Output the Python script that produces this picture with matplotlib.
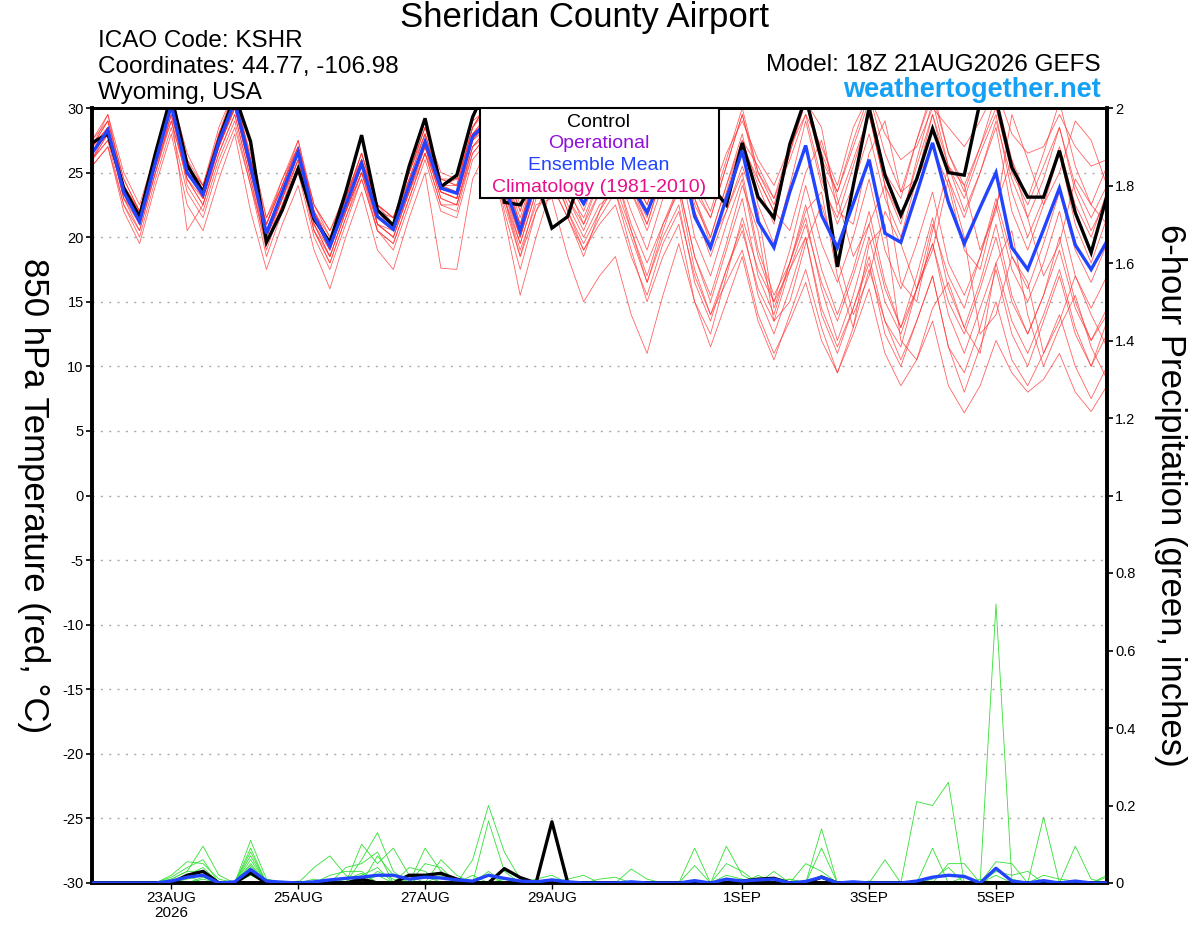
import numpy as np
import pandas as pd
import matplotlib
matplotlib.use('Agg')
import matplotlib.pyplot as plt
from matplotlib.patches import Rectangle

plt.rcParams['font.family'] = ['Liberation Sans', 'DejaVu Sans']
plt.rcParams['axes.unicode_minus'] = False

# 6-hourly GEFS steps from the 18Z 21AUG2026 run
times = pd.date_range('2026-08-21 18:00', periods=65, freq='6h')

# 850 hPa temperature (C)
ens_mean = [26.5, 28.3, 23.5, 21.2, 25.8, 30.2, 25.0, 23.3, 27.4, 30.5,
            25.5, 20.3, 23.5, 26.6, 21.6, 19.3, 22.5, 25.7, 21.6, 20.6,
            24.0, 27.4, 23.8, 23.4, 27.8, 29.0, 24.0, 20.5, 24.5, 26.0,
            24.5, 22.6, 25.0, 26.8, 24.0, 21.9, 25.0, 27.0, 21.6, 19.2,
            23.0, 26.7, 21.2, 19.2, 23.5, 27.1, 21.7, 19.2, 22.6, 26.0,
            20.3, 19.6, 23.4, 27.3, 22.7, 19.5, 22.3, 25.0, 19.2, 17.5,
            20.6, 23.8, 19.4, 17.5, 19.7]

control = [27.3, 28.0, 23.8, 21.6, 26.5, 31.0, 25.6, 23.5, 27.5, 31.0,
           27.4, 19.6, 22.1, 25.3, 21.4, 19.6, 23.5, 27.9, 22.1, 20.9,
           25.5, 29.2, 23.9, 24.8, 29.3, 32.0, 22.7, 22.5, 24.5, 20.7,
           21.6, 25.5, 26.5, 27.5, 25.0, 24.0, 26.0, 28.0, 25.0, 24.0,
           22.5, 27.3, 23.1, 21.5, 27.2, 30.8, 26.0, 17.7, 24.0, 30.0,
           24.8, 21.7, 24.5, 28.4, 25.0, 24.8, 30.5, 30.6, 25.4, 23.1,
           23.1, 26.7, 21.9, 18.8, 23.2]

members = [
    [27.0, 29.5, 24.0, 21.5, 26.5, 31.0, 26.0, 23.0, 28.0, 31.5, 26.0, 21.0, 24.0, 27.5, 22.0, 19.5, 23.0, 26.5, 22.5, 21.0, 25.0, 28.5, 24.5, 24.0, 28.5,
     30.5, 25.5, 22.0, 26.0, 28.5, 26.0, 24.0, 27.0, 29.5, 26.0, 23.0, 27.0, 30.0, 24.5, 22.0, 26.0,
     30.0, 25.0, 23.0, 27.0, 31.0, 26.5, 23.5, 27.0, 30.5, 25.0, 23.0, 27.5, 31.0, 26.5, 24.0, 27.0, 30.0, 25.0, 22.5, 25.5, 28.5, 24.0, 21.5, 24.0],
    [26.0, 28.0, 23.0, 20.5, 25.0, 29.5, 20.5, 22.5, 26.5, 29.5, 24.5, 19.5, 22.5, 26.0, 20.5, 18.0, 21.5, 25.0, 20.5, 19.5, 23.0, 26.5, 22.5, 22.0, 26.5,
     28.0, 22.5, 18.5, 22.0, 24.0, 21.5, 19.0, 21.5, 23.5, 20.0, 16.5, 20.0, 22.5, 16.5, 13.5, 17.5,
     21.0, 15.5, 12.5, 16.0, 20.0, 14.0, 11.0, 14.5, 18.0, 12.5, 10.0, 13.5, 17.0, 11.5, 8.0, 11.5, 15.0, 10.5, 8.5, 11.0, 14.0, 10.0, 7.5, 10.0],
    [27.5, 29.0, 24.5, 22.0, 26.0, 30.5, 25.5, 24.0, 27.0, 30.0, 25.0, 21.0, 24.5, 27.0, 22.5, 20.0, 22.0, 25.0, 22.0, 21.5, 24.5, 27.0, 24.0, 24.5, 28.0,
     29.5, 24.5, 21.0, 25.0, 27.5, 25.0, 23.5, 26.0, 28.0, 25.0, 22.5, 26.5, 29.0, 23.0, 20.0, 24.0,
     28.0, 22.5, 19.5, 24.0, 29.0, 24.0, 21.5, 25.5, 29.5, 24.0, 21.0, 26.0, 30.5, 25.5, 22.0, 25.0, 28.5, 22.0, 19.0, 22.5, 26.5, 21.0, 18.0, 21.5],
    [26.0, 27.5, 23.5, 21.0, 25.5, 29.0, 24.5, 23.0, 27.5, 30.5, 26.5, 20.0, 23.0, 26.5, 21.0, 19.0, 22.5, 26.0, 21.0, 20.0, 23.5, 27.0, 23.0, 22.5, 27.0,
     28.5, 23.0, 18.5, 23.0, 25.0, 22.0, 19.5, 22.0, 24.0, 20.5, 17.0, 21.0, 24.0, 18.5, 15.5, 19.5,
     24.0, 20.5, 13.5, 15.0, 19.5, 22.5, 18.5, 14.0, 17.0, 22.0, 19.5, 16.0, 19.0, 24.5, 20.0, 12.5, 14.0, 18.5, 16.5, 11.0, 13.5, 17.0, 14.0, 11.5],
    [26.5, 28.5, 23.0, 21.5, 26.0, 30.0, 24.0, 22.0, 26.0, 29.0, 24.0, 19.5, 23.0, 26.0, 21.0, 18.5, 22.0, 25.0, 21.5, 20.5, 23.5, 26.5, 23.5, 23.0, 27.0,
     28.0, 23.5, 20.0, 24.0, 25.5, 22.5, 20.0, 22.5, 23.5, 19.0, 15.0, 18.5, 21.0, 15.0, 11.5, 15.0,
     18.5, 13.5, 10.5, 14.0, 17.5, 13.0, 9.5, 12.5, 16.0, 11.0, 8.5, 10.5, 13.5, 8.5, 6.4, 8.5, 12.0, 9.5, 8.0, 9.0, 11.0, 8.0, 6.5, 8.5],
    [27.0, 28.5, 24.0, 22.0, 26.5, 31.0, 26.5, 24.0, 28.0, 31.0, 26.0, 21.5, 24.0, 27.0, 22.0, 20.0, 23.0, 26.5, 22.5, 21.5, 25.0, 28.0, 24.5, 24.0, 28.5,
     30.5, 26.0, 22.5, 26.5, 29.0, 26.5, 24.5, 27.5, 30.0, 26.5, 23.5, 27.0, 29.5, 23.0, 19.5, 22.0,
     25.0, 19.0, 15.5, 18.0, 21.5, 16.0, 12.0, 15.5, 20.0, 15.0, 12.5, 16.0, 19.5, 14.0, 11.0, 14.5, 18.0, 13.5, 11.0, 14.0, 17.5, 13.0, 10.0, 12.5],
    [25.5, 27.0, 22.5, 20.0, 24.5, 28.5, 23.5, 21.5, 25.5, 28.5, 24.0, 18.5, 22.0, 25.0, 20.0, 17.5, 21.0, 24.5, 20.5, 19.0, 22.5, 26.0, 22.0, 21.5, 26.0,
     27.5, 22.0, 17.5, 22.0, 25.0, 23.0, 21.0, 24.5, 27.0, 23.5, 20.5, 24.0, 27.5, 22.0, 19.0, 23.0,
     27.0, 24.5, 22.0, 20.5, 25.0, 27.5, 23.0, 18.5, 21.0, 24.0, 16.5, 15.0, 20.5, 25.5, 24.0, 19.0, 22.0, 29.5, 26.0, 22.5, 25.0, 29.0, 27.5, 24.0],
    [27.0, 28.0, 23.5, 21.5, 25.5, 30.0, 25.5, 23.5, 27.0, 30.5, 25.0, 20.5, 23.5, 26.5, 22.0, 19.5, 22.0, 25.5, 21.5, 20.5, 24.5, 28.0, 24.0, 23.5, 28.0,
     29.0, 24.0, 20.0, 24.0, 26.0, 23.5, 21.5, 24.5, 26.5, 23.5, 21.0, 25.0, 28.0, 23.5, 21.5, 25.5,
     29.5, 25.0, 22.5, 26.5, 30.5, 25.5, 22.5, 26.0, 29.5, 24.0, 21.5, 25.5, 29.5, 24.5, 21.5, 25.0, 29.0, 24.5, 21.5, 24.5, 28.5, 23.5, 20.5, 23.0],
    [26.0, 28.0, 24.0, 21.0, 25.0, 29.5, 25.0, 23.5, 27.5, 30.0, 25.5, 20.0, 23.0, 26.5, 21.5, 19.0, 22.5, 25.5, 21.0, 20.0, 23.5, 27.0, 23.5, 23.0, 27.5,
     28.5, 23.0, 19.0, 22.5, 23.0, 18.5, 15.0, 17.0, 18.5, 14.0, 11.0, 15.5, 19.5, 15.0, 12.5, 17.0,
     21.5, 17.5, 15.0, 19.0, 24.0, 19.5, 16.5, 20.0, 24.5, 19.0, 16.0, 19.5, 23.5, 18.0, 15.5, 18.5, 22.5, 17.5, 15.0, 18.0, 22.0, 17.0, 14.5, 17.0],
    [27.5, 29.5, 25.0, 22.5, 26.5, 30.5, 26.0, 24.0, 28.5, 31.5, 27.0, 21.5, 24.5, 27.5, 22.5, 20.5, 23.5, 26.0, 22.5, 21.5, 25.0, 28.5, 25.0, 24.5, 29.0,
     30.0, 25.0, 21.5, 25.5, 27.5, 24.5, 22.0, 25.5, 28.0, 24.5, 22.0, 26.0, 28.5, 22.5, 20.0, 24.0,
     27.5, 25.5, 23.0, 26.0, 29.5, 27.0, 24.0, 28.5, 31.0, 28.0, 26.0, 27.0, 30.0, 28.5, 27.0, 29.0, 31.5, 28.0, 26.5, 27.0, 29.5, 27.0, 25.5, 26.0],
    [26.0, 27.5, 22.5, 20.5, 25.0, 29.0, 24.5, 22.5, 26.5, 29.5, 24.5, 19.0, 22.5, 25.5, 20.5, 18.0, 21.5, 24.5, 20.5, 19.5, 23.0, 26.5, 22.5, 22.5, 26.5,
     28.0, 23.5, 19.5, 23.5, 25.5, 22.0, 19.0, 21.0, 22.5, 18.5, 15.5, 19.5, 22.0, 17.0, 14.0, 17.5,
     20.5, 16.0, 13.5, 17.5, 21.0, 16.5, 13.5, 17.0, 21.0, 16.0, 13.0, 16.0, 19.5, 15.0, 12.5, 16.0, 20.0, 15.0, 12.5, 15.5, 19.0, 14.5, 12.0, 14.5],
    [27.0, 29.0, 24.5, 22.0, 26.0, 30.5, 25.5, 23.5, 27.5, 30.5, 25.5, 21.0, 24.0, 27.0, 22.0, 19.5, 23.0, 26.5, 22.0, 21.0, 24.5, 28.0, 24.0, 24.0, 28.5,
     30.0, 25.0, 21.0, 25.5, 28.0, 25.5, 23.0, 26.5, 29.0, 25.0, 22.5, 26.5, 29.5, 24.0, 21.5, 25.5,
     29.5, 24.5, 22.0, 26.5, 31.0, 26.0, 23.5, 27.5, 31.0, 26.5, 23.5, 27.5, 31.5, 26.5, 23.5, 27.0, 31.0, 26.0, 23.0, 26.5, 30.5, 25.5, 22.5, 25.5],
    [26.5, 28.0, 23.5, 21.0, 25.5, 30.0, 25.0, 23.0, 27.0, 30.0, 25.5, 20.5, 23.5, 26.5, 21.5, 19.0, 22.5, 25.5, 21.5, 20.5, 24.0, 27.0, 23.5, 23.0, 27.5,
     29.0, 24.5, 20.5, 24.5, 26.5, 24.0, 21.0, 23.5, 25.0, 21.0, 18.0, 21.0, 23.5, 17.5, 14.0, 16.5,
     19.0, 14.0, 11.0, 13.5, 16.5, 12.0, 9.5, 13.0, 17.5, 13.5, 11.5, 16.0, 21.0, 17.0, 14.5, 18.5, 23.0, 18.5, 16.0, 19.5, 23.5, 19.0, 16.5, 19.5],
    [26.0, 28.5, 24.0, 21.5, 26.0, 30.0, 25.5, 23.0, 27.0, 30.5, 25.0, 20.0, 23.0, 26.0, 21.0, 18.5, 22.0, 25.5, 21.0, 20.0, 23.5, 27.5, 23.5, 23.0, 27.5,
     29.0, 24.0, 20.0, 24.5, 26.5, 24.5, 22.5, 25.5, 27.5, 24.0, 21.5, 25.5, 28.0, 22.0, 18.5, 22.0,
     25.5, 22.0, 14.5, 18.0, 22.0, 23.5, 17.0, 13.0, 19.5, 21.0, 12.0, 10.5, 14.5, 16.5, 13.0, 11.0, 18.0, 20.5, 14.0, 10.0, 13.0, 15.5, 11.5, 9.0],
    [27.0, 29.0, 24.0, 22.0, 26.5, 30.5, 25.5, 24.0, 28.0, 31.0, 26.0, 21.0, 24.0, 27.0, 22.5, 20.5, 23.0, 26.0, 22.5, 21.5, 25.0, 28.5, 24.5, 24.5, 28.5,
     30.5, 25.5, 22.0, 26.0, 28.5, 26.0, 23.5, 26.0, 28.5, 25.5, 23.0, 26.5, 29.0, 25.0, 23.0, 26.5,
     29.0, 26.0, 24.0, 27.0, 29.5, 24.5, 21.0, 24.0, 28.0, 23.0, 20.0, 24.5, 29.5, 25.5, 23.0, 26.5, 29.5, 23.5, 20.0, 23.0, 27.0, 22.5, 20.0, 23.5],
    [26.5, 28.0, 23.0, 21.0, 25.5, 29.5, 24.5, 22.5, 27.0, 30.0, 25.0, 19.5, 22.5, 25.5, 20.5, 18.5, 22.0, 25.0, 21.0, 20.5, 24.0, 27.0, 23.0, 22.5, 27.0,
     28.5, 23.0, 19.5, 23.5, 25.5, 23.0, 20.5, 23.5, 25.5, 22.0, 19.0, 23.0, 26.0, 20.0, 17.0, 21.0,
     24.5, 18.5, 15.0, 17.5, 20.0, 14.5, 11.5, 14.5, 18.5, 13.5, 10.5, 13.5, 17.0, 11.5, 9.5, 13.0, 17.5, 12.5, 10.0, 13.5, 17.0, 12.5, 10.0, 13.5],
    [27.0, 28.5, 23.5, 21.5, 26.0, 30.0, 25.0, 23.5, 27.0, 30.0, 25.5, 20.5, 23.5, 26.5, 22.0, 19.5, 23.0, 26.0, 22.0, 20.5, 24.0, 27.5, 24.0, 23.5, 28.0,
     29.5, 24.5, 21.0, 25.0, 27.0, 24.5, 22.5, 25.0, 27.5, 24.0, 21.0, 25.0, 27.5, 21.5, 19.0, 23.5,
     27.5, 24.0, 21.0, 27.0, 30.5, 28.5, 22.0, 21.0, 26.5, 29.0, 23.5, 24.5, 27.0, 24.0, 19.0, 17.5, 22.5, 26.0, 21.5, 17.0, 19.5, 24.5, 22.5, 21.0],
    [25.5, 27.0, 22.0, 19.5, 24.0, 28.0, 22.5, 20.5, 24.5, 28.0, 22.0, 17.5, 21.0, 24.0, 19.0, 16.0, 20.0, 23.5, 19.0, 17.5, 21.5, 25.0, 17.6, 17.5, 24.5,
     27.0, 21.5, 15.5, 20.0, 24.0, 21.5, 18.5, 22.0, 25.0, 20.5, 16.5, 20.5, 24.0, 18.5, 15.0, 19.0,
     23.0, 17.0, 14.0, 18.0, 22.5, 17.5, 14.0, 17.5, 22.0, 16.5, 13.0, 17.0, 21.5, 16.0, 13.0, 16.5, 21.0, 15.5, 12.5, 15.5, 20.0, 15.0, 12.0, 14.0],
]

# 6-hour precipitation (inches), {step index: amount}, other steps are 0
control_precip = {6: 0.02, 7: 0.03, 10: 0.026, 17: 0.01, 20: 0.02, 21: 0.02,
                  22: 0.025, 23: 0.01, 26: 0.037, 27: 0.014, 29: 0.158,
                  41: 0.005, 42: 0.01, 43: 0.012, 46: 0.015}
mean_precip = {5: 0.005, 6: 0.015, 7: 0.02, 9: 0.003, 10: 0.035, 11: 0.005,
               12: 0.002, 14: 0.003, 15: 0.008, 16: 0.012, 17: 0.015, 18: 0.02,
               19: 0.02, 20: 0.01, 21: 0.015, 22: 0.013, 23: 0.008, 24: 0.005,
               25: 0.02, 26: 0.012, 27: 0.005, 28: 0.003, 29: 0.008, 30: 0.003,
               34: 0.003, 38: 0.006, 40: 0.01, 41: 0.005, 42: 0.008, 43: 0.01,
               45: 0.004, 46: 0.015, 48: 0.003, 52: 0.005, 53: 0.015, 54: 0.02,
               55: 0.017, 57: 0.038, 58: 0.005, 60: 0.006, 62: 0.005}
member_precip = [
    {5: .01, 6: .03, 7: .095, 8: .02, 10: .11, 11: .01, 17: .06, 18: .13, 19: .03,
     24: .06, 25: .2, 26: .08, 27: .01, 52: .21, 53: .20, 54: .26},
    {5: .02, 6: .055, 7: .05, 8: .01, 10: .09, 14: .04, 15: .07, 16: .02, 21: .09,
     22: .03, 25: .16, 26: .03, 57: .72, 58: .01},
    {5: .015, 6: .04, 7: .06, 10: .07, 17: .1, 18: .05, 19: .09, 20: .02, 38: .09,
     40: .095, 41: .02, 53: .09},
    {6: .02, 7: .04, 10: .06, 16: .04, 17: .05, 18: .08, 22: .06, 23: .02, 46: .14,
     60: .17},
    {5: .01, 6: .03, 7: .03, 10: .05, 12: .005, 18: .07, 19: .02, 21: .05, 22: .04,
     24: .02, 46: .09, 62: .095, 63: .01},
    {6: .01, 7: .02, 10: .04, 15: .02, 16: .03, 17: .03, 20: .04, 21: .03, 38: .045,
     40: .05, 41: .03, 50: .06, 57: .055, 58: .05},
    {7: .015, 10: .03, 11: .01, 17: .02, 18: .04, 25: .02, 28: .01, 29: .02, 34: .036,
     35: .01, 43: .03, 45: .05, 46: .03, 54: .05, 55: .05, 64: .02},
    {5: .005, 6: .02, 10: .02, 13: .005, 18: .03, 19: .01, 30: .01, 31: .02, 42: .02,
     44: .01, 53: .01, 54: .04, 57: .03, 58: .02, 59: .03, 64: .015},
    {6: .015, 7: .02, 10: .08, 16: .01, 17: .025, 22: .02, 26: .01, 40: .02, 41: .01,
     49: .005, 56: .01, 60: .02, 61: .01, 62: .005},
    {7: .01, 10: .045, 14: .01, 18: .02, 21: .02, 25: .03, 32: .01, 33: .015,
     44: .01, 46: .02, 55: .015, 57: .02},
]

date_ticks = pd.to_datetime(['2026-08-23', '2026-08-25', '2026-08-27', '2026-08-29',
                             '2026-09-01', '2026-09-03', '2026-09-05'])
date_labels = ['23AUG\n2026', '25AUG', '27AUG', '29AUG', '1SEP', '3SEP', '5SEP']


def expand(d):
    arr = np.zeros(len(times))
    for k, v in d.items():
        arr[k] = v
    return arr


fig = plt.figure(figsize=(12, 9.27), dpi=100)
ax = fig.add_axes([92 / 1200, 44 / 927, 1015 / 1200, 775 / 927])
ax2 = ax.twinx()

# temperature members, mean and control
for m in members:
    ax.plot(times, m, color='#ff3030', lw=0.6, alpha=0.75, zorder=2)
ax.plot(times, control, color='black', lw=2.4, zorder=4, solid_joinstyle='miter')
ax.plot(times, ens_mean, color='#2244ff', lw=2.4, zorder=5, solid_joinstyle='miter')

# precipitation on the right axis
for d in member_precip:
    ax2.plot(times, expand(d), color='#33e033', lw=0.6, zorder=2)
ax2.plot(times, expand(control_precip), color='black', lw=2.4, zorder=4)
ax2.plot(times, expand(mean_precip), color='#2244ff', lw=2.4, zorder=5)

ax.set_xlim(times[0], times[-1])
ax.set_ylim(-30, 30)
ax2.set_ylim(0, 2)
ax.set_yticks(range(-30, 31, 5))
ax2.set_yticks(np.arange(0, 2.01, 0.2))
ax2.set_yticklabels(['0', '0.2', '0.4', '0.6', '0.8', '1', '1.2', '1.4', '1.6', '1.8', '2'])
ax.set_xticks(date_ticks)
ax.set_xticklabels(date_labels, fontsize=11, linespacing=1.1)
ax.tick_params(axis='y', labelsize=10.5, length=4, width=1.2, pad=2)
ax2.tick_params(axis='y', labelsize=10.5, length=4, width=1.2, pad=2)
ax.tick_params(axis='x', length=4, width=1, pad=2)

for yv in range(-25, 30, 5):
    ax.axhline(yv, color='#aaaaaa', lw=1.0, ls=(0, (1.5, 4.5)), zorder=1)

for sp in ['left', 'right', 'bottom']:
    ax.spines[sp].set_linewidth(2.6)
    ax2.spines[sp].set_linewidth(2.6)
ax.spines['top'].set_linewidth(2.0)
ax2.spines['top'].set_linewidth(2.0)

ax.set_ylabel('850 hPa Temperature (red, °C)', fontsize=25, rotation=270,
              va='center')
ax.yaxis.set_label_coords(-0.058, 0.5)
ax2.set_ylabel('6-hour Precipitation (green, inches)', fontsize=25, rotation=270,
               va='center')
ax2.yaxis.set_label_coords(1.063, 0.5)

# header text
fig.text(585 / 1200, 1 - 18 / 927, 'Sheridan County Airport', fontsize=25,
         ha='center', va='center')
for i, line in enumerate(['ICAO Code: KSHR', 'Coordinates: 44.77, -106.98', 'Wyoming, USA']):
    fig.text(98 / 1200, 1 - (47 + 26 * i) / 927, line, fontsize=17.5, ha='left', va='baseline')
fig.text(1101 / 1200, 1 - 71 / 927, 'Model: 18Z 21AUG2026 GEFS', fontsize=17.5,
         ha='right', va='baseline')
fig.text(1101 / 1200, 1 - 97 / 927, 'weathertogether.net', fontsize=19.5,
         fontweight='bold', color='#14a0f5', ha='right', va='baseline')

# legend box
fig.patches.append(Rectangle((480 / 1200, 1 - 198 / 927), 239 / 1200, 90 / 927,
                             transform=fig.transFigure, facecolor='white',
                             edgecolor='black', lw=1.5, zorder=10))
leg = [('Control', 'black'), ('Operational', '#9010d8'),
       ('Ensemble Mean', '#2244ff'), ('Climatology (1981-2010)', '#e8108a')]
for i, (txt, col) in enumerate(leg):
    fig.text(599 / 1200, 1 - (127 + 21.5 * i) / 927, txt, color=col, fontsize=14,
             ha='center', va='baseline', zorder=11)

fig.savefig('out.png', dpi=100)
